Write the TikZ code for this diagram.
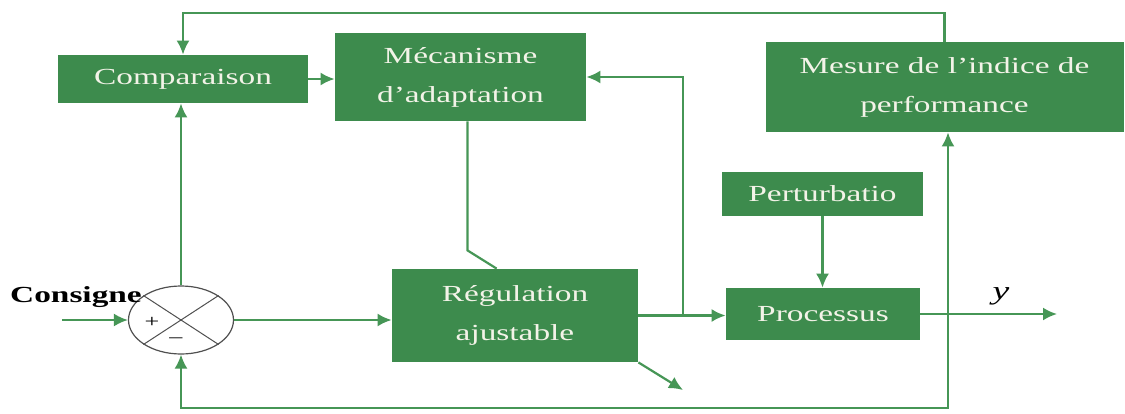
\documentclass[tikz,border=0pt]{standalone}
\usepackage{fontspec}
\setmainfont{Liberation Serif}[FakeStretch=1.45]
\usepackage{tikz}
\usetikzlibrary{arrows.meta,shapes.geometric}
\definecolor{blockgreen}{RGB}{61,139,77}
\definecolor{wiregreen}{RGB}{70,150,86}
\definecolor{blocktext}{RGB}{243,243,232}
\definecolor{sumgray}{RGB}{80,80,80}

\begin{document}
\begin{tikzpicture}[x=0.5pt, y=-0.5pt, >={Latex[length=7pt,width=6.5pt]},
  block/.style={rectangle, fill=blockgreen, text=blocktext, align=center, inner sep=0pt,
    font=\fontsize{11.5}{19.5}\selectfont},
  wire/.style={wiregreen, line width=1.1pt}]
  \useasboundingbox[fill=white] (0,0) rectangle (1125,413);

  \node[block, minimum width=125pt, minimum height=24pt] (cmp) at (183,79) {Comparaison};
  \node[block, minimum width=125.5pt, minimum height=44pt] (mec) at (460.5,77) {Mécanisme\\d’adaptation};
  \node[block, minimum width=179pt, minimum height=45pt] (mes) at (944.5,87) {Mesure de l’indice de\\performance};
  \node[block, minimum width=100.5pt, minimum height=22pt] (per) at (822.5,194) {Perturbatio};
  \node[block, minimum width=97pt, minimum height=26pt] (pro) at (823,314) {Processus};
  \node[block, minimum width=123pt, minimum height=46.5pt] (reg) at (515,315.5) {Régulation\\ajustable};
  \node[ellipse, draw=sumgray, line width=0.6pt, minimum width=52.5pt, minimum height=34pt, inner sep=0pt] (sum) at (181,320) {};
  \draw[sumgray, line width=0.5pt] (sum.north west) -- (sum.south east) (sum.north east) -- (sum.south west);
  \node[font=\fontsize{9}{10}\selectfont] (plus) at (152,322) {+};
  \node[font=\fontsize{9}{10}\selectfont] (minus) at (176,340) {--};
  \node[font=\bfseries\fontsize{11.5}{12}\selectfont] (cons) at (76,297) {Consigne};

  \coordinate (in) at (62,320);
  \coordinate (j1) at (683,315.5);
  \coordinate (j2) at (948,314);
  \coordinate (out) at (1057,314);
  \coordinate (regout) at (683,390);

  \path[wire,->]
    (in) edge (sum.west)
    (sum.east) edge (sum.east -| reg.west)
    (sum.north) edge (sum.north |- cmp.south)
    (cmp.east) edge (cmp.east -| mec.west)
    (reg.east) edge (reg.east -| pro.west)
    (per.south) edge (per.south |- pro.north)
    (pro.east) edge (out)
    (j2) edge (j2 |- mes.south)
    (reg.south east) edge (regout);
  \node[font=\itshape\fontsize{13}{14}\selectfont] (ylab) at (1001,296) {y};

  \draw[wire,->] (mes.north) -- ++(0,-29) -| (cmp.north);
  \draw[wire,->] (j1) |- (mec.east);
  \draw[wire] ([xshift=3.5pt]mec.south) -- ++(0,129) -- ([xshift=52.5pt]reg.north west);
  \draw[wire,->] (j2) -- ++(0,94) -| (sum.south);
\end{tikzpicture}
\end{document}
